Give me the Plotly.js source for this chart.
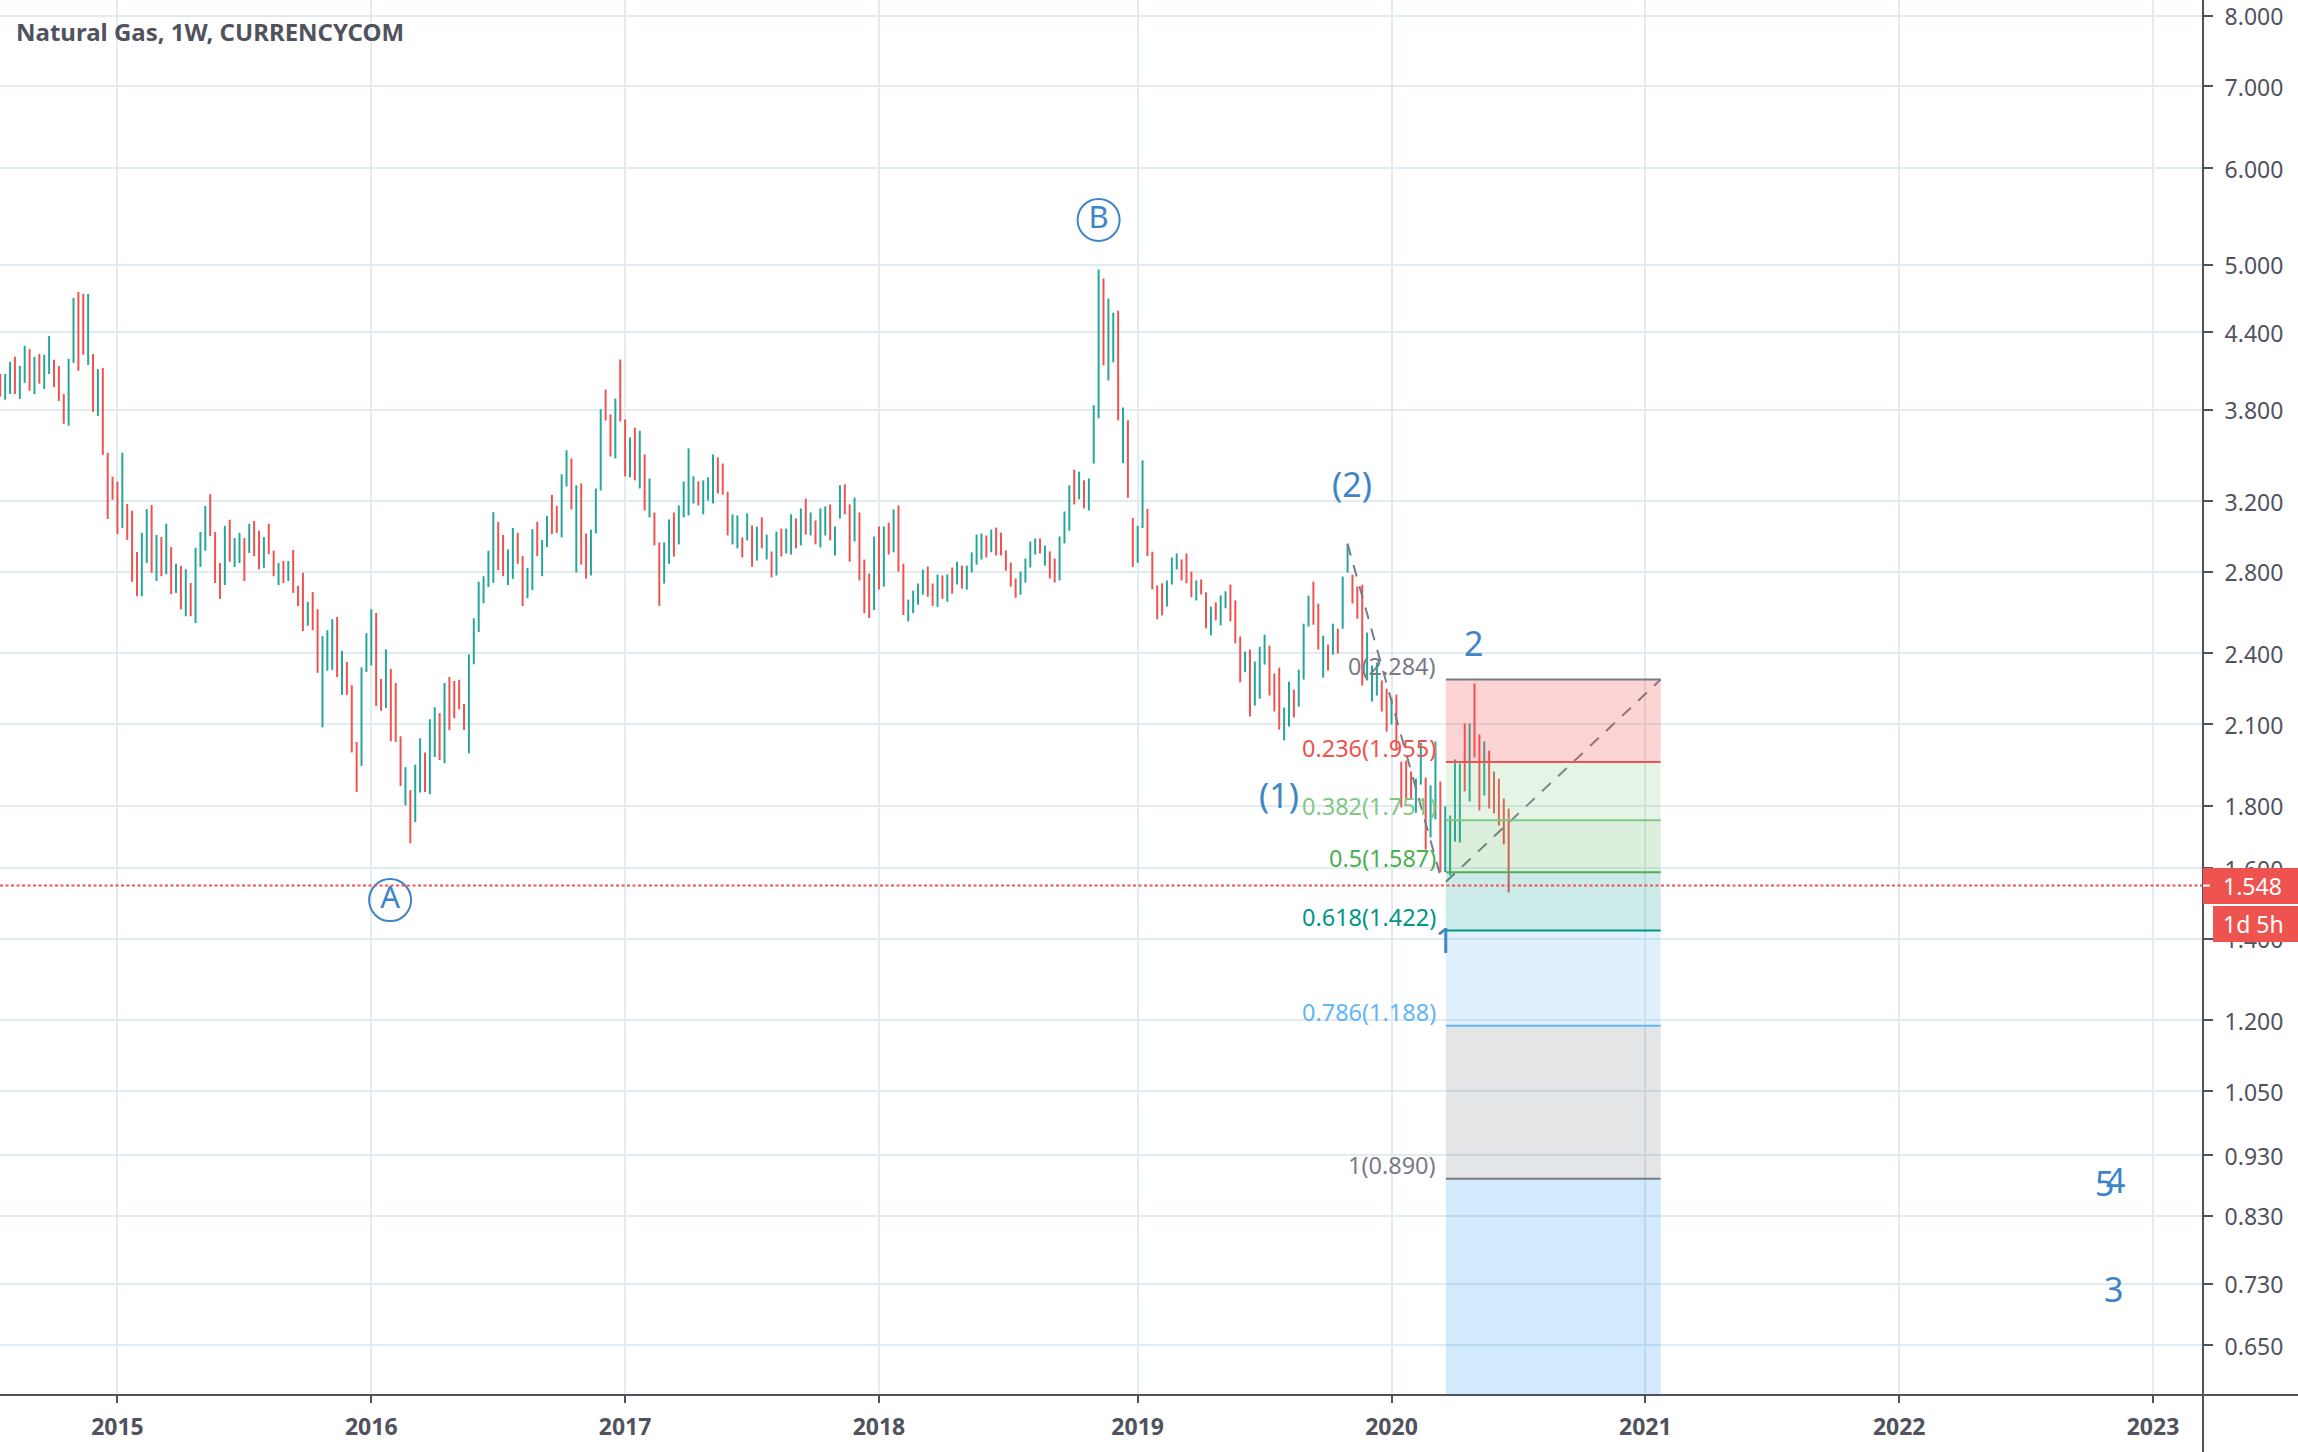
<!DOCTYPE html>
<html>
<head>
<meta charset="utf-8">
<script src="https://cdn.plot.ly/plotly-3.0.1.min.js"></script>
<style>html,body{margin:0;padding:0;background:#fff}#chart{width:2298px;height:1452px}</style>
</head>
<body>
<div id="chart"></div>
<script>
const firstWeek = '2014-07-21';
const barHigh = [
4.067,4.067,4.162,4.201,4.130,4.289,4.262,4.201,4.223,4.217,
4.370,4.178,4.130,3.916,4.185,4.695,4.749,4.731,4.731,4.223,
4.105,4.114,3.505,3.349,3.319,3.505,3.182,3.141,2.906,3.013,
3.151,3.175,3.001,2.989,3.065,2.933,2.842,2.831,2.813,2.741,
2.929,3.018,3.170,3.241,3.018,2.846,3.053,3.088,2.983,3.013,
2.983,3.065,3.081,3.025,2.989,3.065,2.913,2.846,2.857,2.857,
2.917,2.726,2.794,2.645,2.694,2.608,2.479,2.507,2.560,2.570,
2.411,2.361,2.260,2.030,2.337,2.493,2.608,2.590,2.286,2.418,
2.330,2.269,2.052,1.936,1.854,1.945,2.044,1.990,2.119,2.168,
2.144,2.269,2.295,2.278,2.283,2.181,2.395,2.564,2.747,2.776,
2.913,3.133,3.076,3.001,2.920,3.041,3.013,2.883,2.820,3.034,
3.076,2.973,3.110,3.236,3.170,3.365,3.521,3.467,3.296,3.308,
3.009,3.031,3.276,3.804,3.949,3.768,3.882,4.179,3.732,3.607,
3.675,3.654,3.494,3.339,3.131,2.959,2.959,3.090,3.131,3.173,
3.320,3.534,3.352,3.320,3.327,3.346,3.494,3.474,3.434,3.256,
3.120,3.114,2.987,3.126,3.055,3.049,3.102,3.003,2.909,3.020,
3.037,3.037,3.120,3.096,3.155,3.214,3.131,3.084,3.155,3.167,
3.179,3.049,3.296,3.302,3.179,3.220,3.131,2.865,2.790,2.992,
3.049,3.049,3.072,3.149,3.173,2.842,2.656,2.701,2.738,2.811,
2.827,2.738,2.785,2.780,2.785,2.822,2.853,2.832,2.832,2.904,
3.003,3.009,2.998,3.031,3.043,3.014,2.915,2.848,2.764,2.800,
2.870,2.964,2.981,2.981,2.942,2.909,2.870,2.992,3.137,3.296,
3.395,3.382,3.327,3.339,3.834,4.953,4.870,4.689,4.566,4.583,
3.817,3.726,3.099,3.053,3.455,3.153,2.907,2.728,2.739,2.754,
2.876,2.898,2.866,2.898,2.800,2.754,2.759,2.693,2.622,2.642,
2.677,2.698,2.733,2.652,2.477,2.408,2.417,2.363,2.430,2.486,
2.435,2.310,2.336,2.166,2.275,2.241,2.327,2.538,2.676,2.748,
2.636,2.481,2.440,2.538,2.514,2.774,2.952,2.784,2.722,2.732,
2.496,2.345,2.358,2.280,2.245,2.208,2.220,1.956,1.960,1.920,
1.894,2.027,1.898,1.870,2.032,1.884,1.797,1.767,1.964,1.949,
2.102,2.102,2.267,2.059,2.032,1.997,1.920,1.894,1.824,1.790];
const barLow = [
3.898,3.874,3.916,3.916,3.880,3.999,3.940,3.916,3.993,3.953,
4.067,3.968,3.865,3.702,3.688,4.153,4.092,4.217,4.137,3.786,
3.757,3.491,3.093,3.207,3.006,3.041,2.973,2.747,2.673,2.673,
2.846,2.794,2.751,2.776,2.787,2.684,2.690,2.608,2.574,2.574,
2.541,2.825,2.913,2.994,2.741,2.659,2.730,2.853,2.825,2.846,
2.751,2.901,2.883,2.813,2.820,2.894,2.776,2.730,2.741,2.751,
2.690,2.624,2.503,2.528,2.507,2.313,2.087,2.322,2.326,2.295,
2.219,2.219,1.990,1.847,1.940,2.317,2.346,2.173,2.153,2.165,
2.033,2.030,1.868,1.801,1.676,1.745,1.845,1.847,1.839,1.973,
1.962,1.950,2.076,2.123,2.159,2.076,1.987,2.351,2.498,2.638,
2.720,2.741,2.808,2.776,2.730,2.762,2.842,2.624,2.663,2.704,
2.883,2.776,2.933,3.006,3.013,2.987,3.289,3.149,2.796,2.837,
2.764,2.780,3.009,3.264,3.725,3.480,3.467,3.718,3.352,3.346,
3.327,3.276,3.143,3.102,2.942,2.625,2.738,2.842,2.881,2.948,
3.102,3.114,3.185,3.173,3.120,3.202,3.185,3.245,3.238,2.998,
2.948,2.926,2.876,2.970,2.826,2.859,2.926,2.865,2.770,2.780,
2.881,2.898,2.892,2.926,2.942,3.003,2.998,2.948,2.931,2.998,
2.970,2.887,3.096,3.120,2.853,2.964,2.754,2.589,2.565,2.604,
2.707,2.722,2.892,2.904,2.800,2.580,2.549,2.589,2.631,2.681,
2.670,2.625,2.620,2.660,2.645,2.686,2.733,2.712,2.707,2.796,
2.837,2.865,2.876,2.904,2.887,2.887,2.805,2.722,2.665,2.681,
2.743,2.822,2.892,2.898,2.832,2.764,2.743,2.754,2.953,3.025,
3.179,3.210,3.155,3.143,3.434,3.740,4.133,4.017,4.157,3.726,
3.437,3.219,2.825,2.847,3.041,2.884,2.708,2.559,2.578,2.622,
2.733,2.812,2.754,2.739,2.668,2.652,2.682,2.516,2.483,2.554,
2.530,2.613,2.549,2.445,2.272,2.316,2.130,2.174,2.203,2.349,
2.216,2.150,2.078,2.036,2.090,2.126,2.170,2.284,2.524,2.533,
2.417,2.292,2.323,2.394,2.399,2.514,2.795,2.636,2.562,2.258,
2.280,2.191,2.216,2.150,2.070,2.098,2.001,1.794,1.821,1.821,
1.776,1.873,1.657,1.695,1.754,1.588,1.588,1.578,1.682,1.679,
1.849,1.814,1.971,1.784,1.835,1.790,1.774,1.734,1.673,1.528];
const barUp = [
0,1,1,0,1,1,0,1,0,1, 1,0,0,0,1,1,0,0,1,0, 1,0,0,0,0,1,0,0,0,1, 1,0,1,0,1,0,1,0,1,0,
1,1,1,0,0,0,1,0,1,1, 0,1,0,0,1,0,0,1,0,1, 0,0,0,1,0,0,1,1,1,0, 1,0,0,0,1,1,1,0,0,1,
0,0,0,1,0,1,1,0,1,1, 0,1,0,0,0,0,1,1,1,1, 1,1,0,0,1,1,0,0,1,1, 0,1,1,0,0,1,1,0,1,0,
0,1,1,1,0,0,1,0,0,1, 0,1,0,1,0,0,1,1,0,1, 1,1,1,0,1,1,1,0,0,0, 1,1,0,1,0,1,0,1,0,1,
0,1,1,0,1,0,1,0,1,1, 0,1,1,0,0,1,0,0,0,1, 0,1,0,1,0,0,1,1,1,1, 0,0,1,0,1,0,1,0,1,1,
1,1,0,1,0,0,0,0,0,1, 1,1,1,0,1,0,0,1,1,1, 0,1,0,1,1,1,0,1,1,0, 1,0,0,1,1,0,0,0,0,1,
1,1,0,0,0,1,0,0,1,0, 1,1,0,0,0,1,0,1,1,1, 0,0,0,1,1,0,1,1,1,0, 0,1,0,1,0,1,1,0,0,0,
1,1,1,0,0,1,0,0,0,0, 1,1,0,1,1,0,1,1,1,1, 0,1,0,0,1,0,0,0,0,0];

const yearTickDates = ['2015-01-05','2016-01-04','2017-01-02','2018-01-01','2019-01-07','2020-01-06','2021-01-04','2022-01-03','2023-01-02'];
const yearTickLabels = ['2015','2016','2017','2018','2019','2020','2021','2022','2023'];
const priceTicks = [8,7,6,5,4.4,3.8,3.2,2.8,2.4,2.1,1.8,1.6,1.4,1.2,1.05,0.93,0.83,0.73,0.65];
const priceTickLabels = ['8.000','7.000','6.000','5.000','4.400','3.800','3.200','2.800','2.400','2.100','1.800','1.600','1.400','1.200','1.050','0.930','0.830','0.730','0.650'];

const lastPrice = 1.548;
const fibStart = '2020-03-24', fibEnd = '2021-01-26';
const fibLevels = ['0','0.236','0.382','0.5','0.618','0.786','1'];
const fibPrices = [2.284,1.955,1.751,1.587,1.422,1.188,0.890];
const fibPriceText = ['2.284','1.955','1.751','1.587','1.422','1.188','0.890'];
const fibColors = ['#787b86','#ef5350','#81c784','#4caf50','#009688','#64b5f6','#787b86'];
const fibFills = ['rgba(239,83,80,0.25)','rgba(129,199,132,0.2)','rgba(76,175,80,0.2)','rgba(0,150,136,0.2)','rgba(100,181,246,0.2)','rgba(120,123,134,0.2)','rgba(33,150,243,0.2)'];

const trendDates = ['2019-11-04','2020-03-17'], trendPrices = [2.951,1.57];
const diagDates = ['2020-03-24','2021-01-26'], diagPrices = [1.559,2.284];

const waveText = ['(2)','(1)','2','1','5','4','3'];
const waveDates = ['2019-11-11','2019-07-29','2020-05-02','2020-03-22','2022-10-24','2022-11-09','2022-11-07'];
const wavePrices = [3.305,1.836,2.445,1.397,0.883,0.888,0.723];
const circleText = ['A','B'];
const circleDates = ['2016-01-31','2018-11-12'];
const circlePrices = [1.506,5.44];

const rangeX = ['2014-07-20 14:00','2023-03-14 16:00'];
const rangeY = [-0.2280,0.91593];
const axisBottomPrice = Math.pow(10,rangeY[0]);

const FONT = '"Noto Sans", sans-serif';
const INK = '#50535e', GRID = '#e1ecf2', BLUE = '#3d85c6';

const x = barHigh.map((_,i)=>new Date(Date.parse(firstWeek+'T00:00:00Z')+i*7*864e5).toISOString().slice(0,10));
const opens = barHigh.map((h,i)=>barUp[i]?barLow[i]:h);
const closes = barHigh.map((h,i)=>barUp[i]?h:barLow[i]);

const traces = [
 {type:'ohlc',x:x,open:opens,high:barHigh,low:barLow,close:closes,tickwidth:0,
  increasing:{line:{color:'#26a69a',width:2}},decreasing:{line:{color:'#ef5350',width:2}},hoverinfo:'skip',showlegend:false},
 {type:'scatter',mode:'lines',x:trendDates,y:trendPrices,line:{color:'#787b86',width:2,dash:'12px,10px'},hoverinfo:'skip',showlegend:false},
 {type:'scatter',mode:'lines',x:diagDates,y:diagPrices,line:{color:'#787b86',width:2,dash:'12px,10px'},hoverinfo:'skip',showlegend:false},
 {type:'scatter',mode:'markers+text',x:circleDates,y:circlePrices,text:circleText,textposition:'middle center',
  textfont:{family:FONT,size:31,color:BLUE},marker:{symbol:'circle-open',size:42,color:BLUE,line:{color:BLUE,width:2}},hoverinfo:'skip',showlegend:false}
];

const shapes = [];
fibFills.forEach((c,i)=>{
  shapes.push({type:'rect',xref:'x',yref:'y',x0:fibStart,x1:fibEnd,y0:fibPrices[i],y1:i<fibPrices.length-1?fibPrices[i+1]:axisBottomPrice,fillcolor:c,line:{width:0},layer:'above'});
});
fibPrices.forEach((p,i)=>{
  shapes.push({type:'line',xref:'x',yref:'y',x0:fibStart,x1:fibEnd,y0:p,y1:p,line:{color:fibColors[i],width:2},layer:'above'});
});
shapes.push({type:'line',xref:'paper',yref:'y',x0:0,x1:1,y0:lastPrice,y1:lastPrice,line:{color:'#ef5350',width:2,dash:'3px,2.5px'},layer:'above'});
// axis frame running out to the page edges
shapes.push({type:'line',xref:'paper',yref:'paper',x0:0,x1:2298/2203,y0:0,y1:0,line:{color:INK,width:2},layer:'above'});
shapes.push({type:'line',xref:'paper',yref:'paper',x0:1,x1:1,y0:-57/1395,y1:1,line:{color:INK,width:2},layer:'above'});
// price tags
shapes.push({type:'rect',xref:'paper',yref:'paper',x0:1,x1:2298/2203,y0:(1395-904)/1395,y1:(1395-868)/1395,fillcolor:'#ef5350',line:{width:0},layer:'above'});
shapes.push({type:'rect',xref:'paper',yref:'paper',x0:2213/2203,x1:2298/2203,y0:(1395-942)/1395,y1:(1395-906)/1395,fillcolor:'#ef5350',line:{width:0},layer:'above'});
shapes.push({type:'line',xref:'paper',yref:'y',x0:1,x1:2210/2203,y0:lastPrice,y1:lastPrice,line:{color:'#ffffff',width:2},layer:'above'});

const annotations = [];
annotations.push({xref:'paper',yref:'paper',x:14/2203,y:(1395-32)/1395,xanchor:'left',yanchor:'middle',showarrow:false,
  text:'<b>Natural Gas, 1W, CURRENCYCOM</b>',font:{family:FONT,size:24,color:INK}});
fibLevels.forEach((l,i)=>{
  annotations.push({xref:'x',yref:'y',x:fibStart,y:Math.log10(fibPrices[i]),xanchor:'right',yanchor:'middle',xshift:-8,yshift:14,showarrow:false,
    text:l+'('+fibPriceText[i]+')',font:{family:FONT,size:23.5,color:fibColors[i]}});
});
waveText.forEach((t,i)=>{
  annotations.push({xref:'x',yref:'y',x:waveDates[i],y:Math.log10(wavePrices[i]),xanchor:'center',yanchor:'middle',showarrow:false,
    text:t,font:{family:FONT,size:34,color:BLUE}});
});
annotations.push({xref:'paper',yref:'y',x:2252/2203,y:Math.log10(lastPrice),xanchor:'center',yanchor:'middle',showarrow:false,text:lastPrice.toFixed(3),font:{family:FONT,size:23,color:'#ffffff'}});
annotations.push({xref:'paper',yref:'paper',x:2253/2203,y:(1395-924)/1395,xanchor:'center',yanchor:'middle',showarrow:false,text:'1d 5h',font:{family:FONT,size:23,color:'#ffffff'}});

const layout = {
  width:2298,height:1452,margin:{l:0,r:95,t:0,b:57,pad:0},
  paper_bgcolor:'#ffffff',plot_bgcolor:'#ffffff',showlegend:false,dragmode:false,
  font:{family:FONT,color:INK},
  xaxis:{type:'date',range:rangeX,rangeslider:{visible:false},tickmode:'array',tickvals:yearTickDates,ticktext:yearTickLabels,
    showgrid:true,gridcolor:GRID,gridwidth:2,zeroline:false,showline:false,ticks:'outside',ticklen:7,tickwidth:2,tickcolor:INK,
    tickfont:{family:FONT,size:23,color:INK,weight:'bold'},automargin:false,ticklabelstandoff:4},
  yaxis:{type:'log',side:'right',range:rangeY,tickmode:'array',tickvals:priceTicks,ticktext:priceTickLabels,
    showgrid:true,gridcolor:GRID,gridwidth:2,zeroline:false,showline:false,ticks:'outside',ticklen:9,tickwidth:2,tickcolor:INK,
    tickfont:{family:FONT,size:23,color:INK},automargin:false,ticklabelstandoff:7,ticklabeloverflow:'allow'},
  shapes:shapes,annotations:annotations
};
Plotly.newPlot('chart',traces,layout,{staticPlot:true,displayModeBar:false,responsive:false}).then(()=>{
  document.querySelectorAll('g.ytick').forEach(g=>g.setAttribute('transform','translate(0,1.5)'));
});
</script>
</body>
</html>
